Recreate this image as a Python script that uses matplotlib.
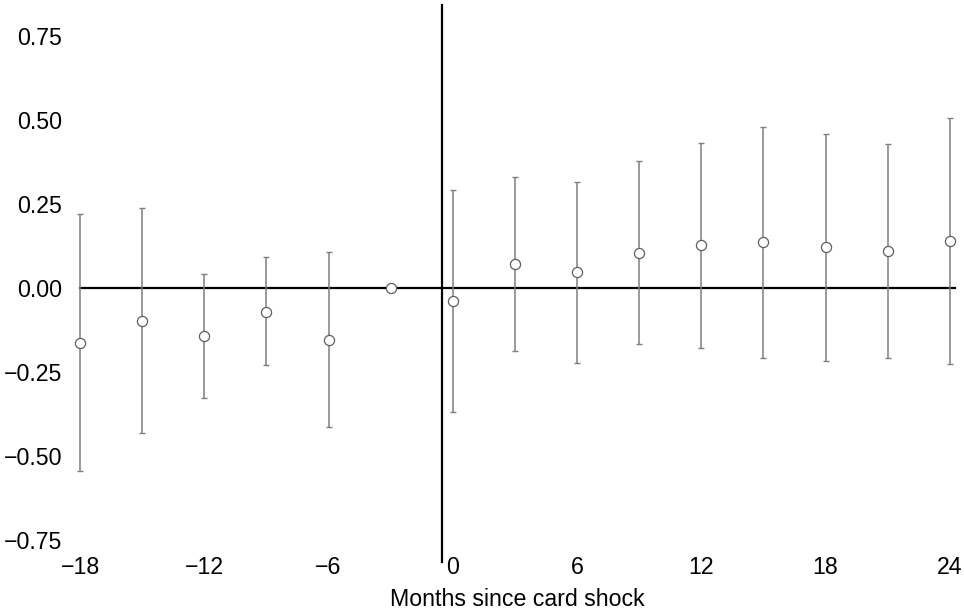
import matplotlib
matplotlib.use("Agg")
import matplotlib.pyplot as plt
import numpy as np

months = [-18, -15, -12, -9, -6, -3, 0, 3, 6, 9, 12, 15, 18, 21, 24]
estimate = [-0.163, -0.098, -0.144, -0.070, -0.154, 0.000, -0.039, 0.071, 0.047,
            0.105, 0.128, 0.136, 0.122, 0.110, 0.141]
ci_low = [-0.543, -0.432, -0.328, -0.230, -0.413, 0.000, -0.369, -0.188, -0.222,
          -0.167, -0.179, -0.207, -0.216, -0.209, -0.225]
ci_high = [0.219, 0.237, 0.041, 0.092, 0.107, 0.000, 0.292, 0.329, 0.316,
           0.377, 0.432, 0.478, 0.459, 0.429, 0.507]
xticks = [-18, -12, -6, 0, 6, 12, 18, 24]
yticks = [-0.75, -0.50, -0.25, 0.00, 0.25, 0.50, 0.75]
xlabel = "Months since card shock"

plt.rcParams['font.family'] = ['Liberation Sans', 'DejaVu Sans']

fig = plt.figure(figsize=(9.64, 6.10), dpi=100)
ax = fig.add_axes([80/964, 48/610, 875/964, 557/610])

x = np.array(months, dtype=float)
y = np.array(estimate)
lo = np.array(ci_low)
hi = np.array(ci_high)
has_ci = (hi - lo) > 0

ax.axhline(0, color='black', lw=1.6, zorder=1, clip_on=False)
ax.axvline(-0.5, color='black', lw=1.6, zorder=1, clip_on=False)

ax.errorbar(x[has_ci], y[has_ci], yerr=[y[has_ci] - lo[has_ci], hi[has_ci] - y[has_ci]],
            fmt='none', ecolor='#7f7f7f', elinewidth=1.1, capsize=2.2, capthick=1.0,
            zorder=2, clip_on=False)
ax.plot(x, y, 'o', mfc='white', mec='#5e5e5e', mew=0.9, ms=7.3, zorder=3, clip_on=False)

ax.set_xlim(-18, 24.25)
ax.set_ylim(-0.815, 0.842)
ax.set_xticks(xticks)
ax.set_xticklabels([f"{t}".replace('-', '\u2212') for t in xticks])
ax.set_yticks(yticks)
ax.set_yticklabels([f"{t:.2f}".replace('-', '\u2212') for t in yticks])
ax.tick_params(axis='both', length=0, labelsize=16.7)
ax.tick_params(axis='y', pad=13)
ax.tick_params(axis='x', pad=-4)
for s in ax.spines.values():
    s.set_visible(False)
ax.set_xlabel(xlabel, fontsize=16.7, labelpad=6)

fig.savefig("out.png", dpi=100)
